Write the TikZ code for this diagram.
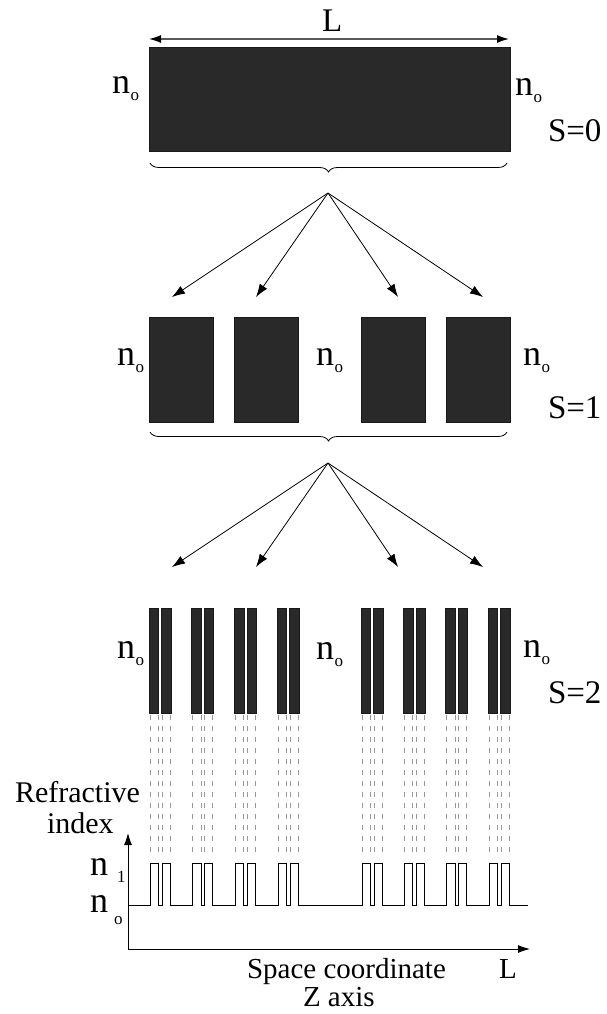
\documentclass[tikz,border=0pt]{standalone}
\usepackage{fontspec}
\setmainfont{Liberation Serif}
\usetikzlibrary{arrows.meta,decorations.pathreplacing}
\newcommand{\nlab}[3]{{\fontsize{36}{36}\selectfont n}\kern#2\raisebox{#3}{\fontsize{17}{17}\selectfont #1}}
\begin{document}
\begin{tikzpicture}[x=1pt,y=-1pt,
  slab/.style={draw=black!90, fill=black!84, line width=0.6pt, inner sep=0pt, outer sep=0pt, anchor=north west},
  lbl/.style={inner sep=0pt, outer sep=0pt, anchor=base west},
  slbl/.style={lbl, font=\fontsize{33}{33}\selectfont},
  tlbl/.style={lbl, font=\fontsize{30}{30}\selectfont},
  blbl/.style={lbl, font=\fontsize{29}{29}\selectfont},
  fan/.style={line width=0.8pt, -{Latex[length=13pt,width=9pt]}},
  brc/.style={decorate, decoration={brace, mirror, amplitude=9pt}, line width=0.8pt},
  guide/.style={draw=black!40, line width=0.9pt, dash pattern=on 5pt off 6pt},
  axisln/.style={line width=0.9pt, -{Latex[length=12pt,width=8pt]}},
  dimln/.style={draw=black!65, line width=1.4pt, {Latex[length=12pt,width=8pt,black]}-{Latex[length=12pt,width=8pt,black]}},
  signal/.style={line width=0.9pt}
]
\useasboundingbox (0,0) rectangle (607,1014);

% ---------- S = 0 ----------
\node[tlbl, font=\fontsize{33}{33}\selectfont] (Ltop) at (322,32) {L};
\coordinate (dimL) at (149,39);
\coordinate (dimR) at (509,39);
\draw[dimln] (dimL) -- (dimR);
\node[slab, minimum width=361pt, minimum height=104pt] (r0) at (149,47) {};
\node[lbl] (n0l) at (112,94) {\nlab{o}{0.5pt}{-7pt}};
\node[lbl] (n0r) at (515,96) {\nlab{o}{0.5pt}{-7pt}};
\node[slbl] (s0) at (548,141) {S=0};
\coordinate (b0L) at (150,163);
\coordinate (b0R) at (507,163);
\draw[brc] (b0L) -- (b0R);
\coordinate (apex0) at (328,193);
\coordinate (t01) at (172,297);
\coordinate (t02) at (256,297);
\coordinate (t03) at (398,297);
\coordinate (t04) at (483,297);
\foreach \t in {t01,t02,t03,t04} \draw[fan] (apex0) -- (\t);

% ---------- S = 1 ----------
\foreach \x [count=\i] in {149,234,361,446}
  \node[slab, minimum width=64pt, minimum height=105pt] (r1\i) at (\x,317) {};
\node[lbl] (n1l) at (117,365) {\nlab{o}{0.5pt}{-7pt}};
\node[lbl] (n1m) at (316,365) {\nlab{o}{0.5pt}{-7pt}};
\node[lbl] (n1r) at (523,365) {\nlab{o}{0.5pt}{-7pt}};
\node[slbl] (s1) at (548,418) {S=1};
\coordinate (b1L) at (150,432);
\coordinate (b1R) at (507,432);
\draw[brc] (b1L) -- (b1R);
\coordinate (apex1) at (328,463);
\coordinate (t11) at (172,567);
\coordinate (t12) at (256,567);
\coordinate (t13) at (398,567);
\coordinate (t14) at (483,567);
\foreach \t in {t11,t12,t13,t14} \draw[fan] (apex1) -- (\t);

% ---------- S = 2 ----------
\foreach \p [count=\i] in {149,191.7,234.3,277,361,403.3,445.7,488} {
  \node[slab, minimum width=9.5pt, minimum height=105pt] (b\i a) at (\p,608) {};
  \node[slab, minimum width=9.5pt, minimum height=105pt] (b\i b) at (\p+12.5,608) {};
  \foreach \d in {1,9.5,13,21}
    \draw[guide] ({\p+\d},715) -- ({\p+\d},852);
}
\node[lbl] (n2l) at (117,658) {\nlab{o}{0.5pt}{-7pt}};
\node[lbl] (n2m) at (316,659) {\nlab{o}{0.5pt}{-7pt}};
\node[lbl] (n2r) at (523,657) {\nlab{o}{0.5pt}{-7pt}};
\node[slbl] (s2) at (548,703) {S=2};

% ---------- refractive index profile ----------
\coordinate (orig) at (128,949);
\coordinate (ytip) at (128,833);
\coordinate (xtip) at (530,949);
\draw[axisln] (orig) -- (ytip);
\draw[axisln] (orig) -- (xtip);
\draw[signal] (128,905)
  \foreach \p in {149,191.7,234.3,277,361,403.3,445.7,488} {
    -- ({\p+1},905) -- ({\p+1},863) -- ({\p+9.5},863) -- ({\p+9.5},905)
    -- ({\p+13},905) -- ({\p+13},863) -- ({\p+21},863) -- ({\p+21},905)
  } -- (528,905);
\node[tlbl] (ri1) at (15,802) {Refractive};
\node[tlbl] (ri2) at (47,833) {index};
\node[lbl] (nn1) at (90,875) {\nlab{1}{9pt}{-7pt}};
\node[lbl] (nn0) at (90,912) {\nlab{o}{6pt}{-12pt}};
\node[blbl] (sc) at (247,978) {Space coordinate};
\node[blbl] (za) at (303,1006) {Z axis};
\node[blbl] (Lbot) at (499,978) {L};
\end{tikzpicture}
\end{document}
